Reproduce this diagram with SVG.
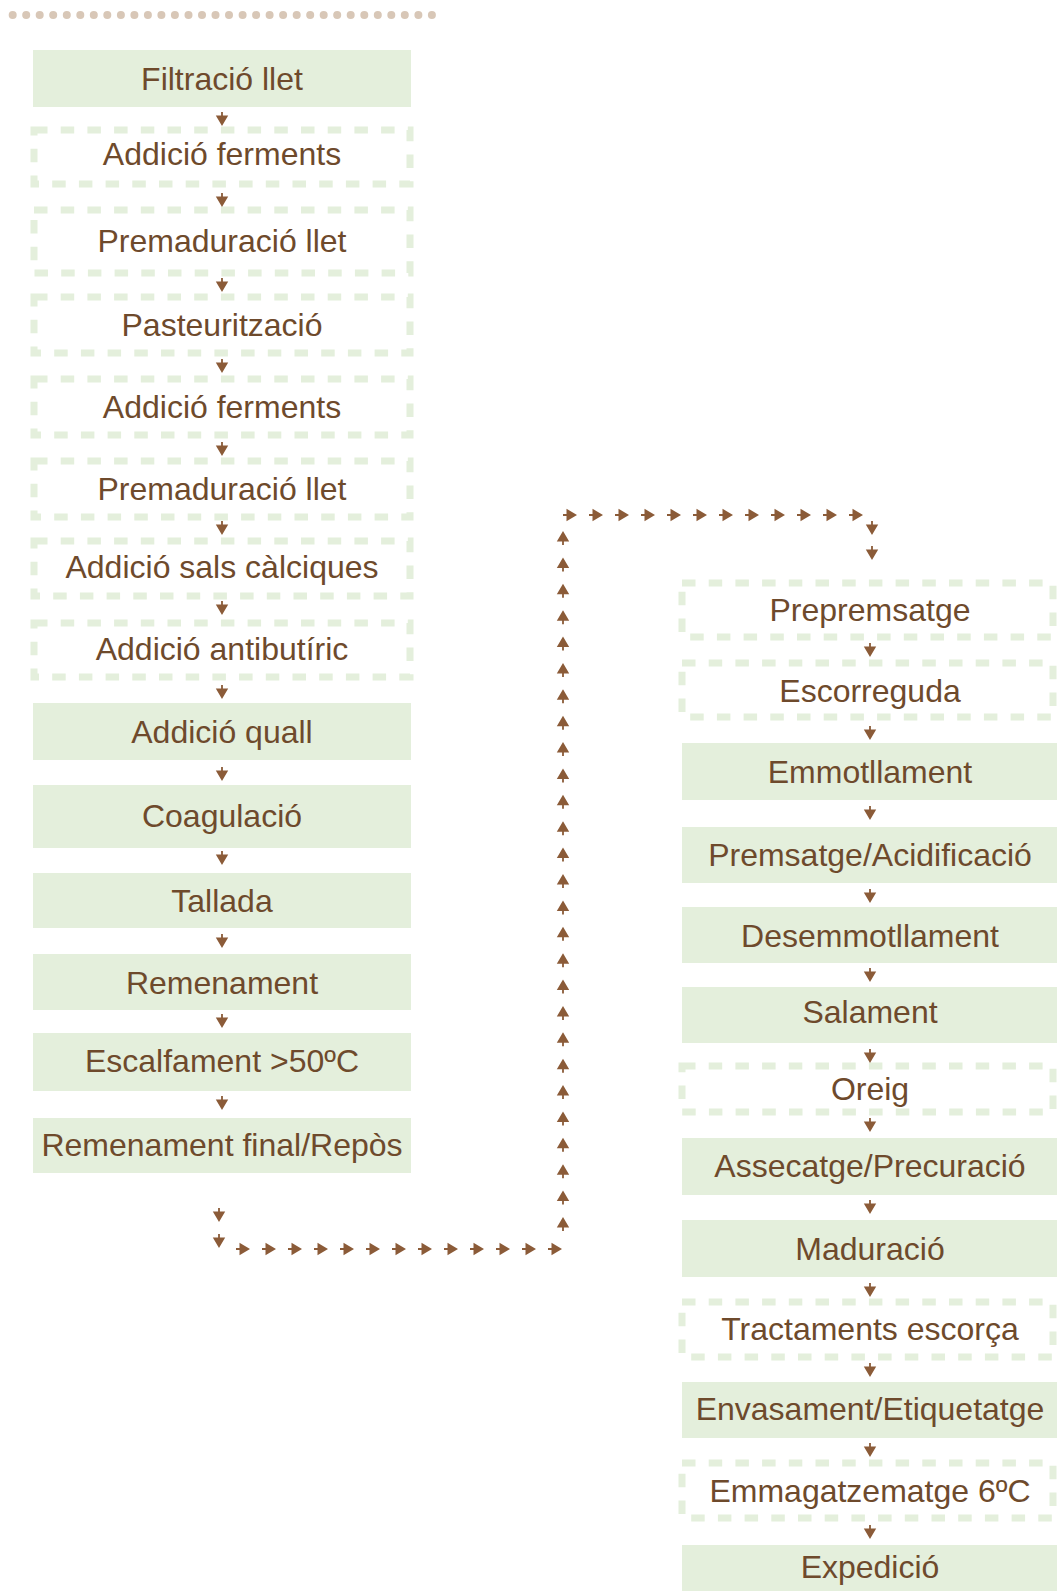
<svg xmlns="http://www.w3.org/2000/svg" xmlns:xlink="http://www.w3.org/1999/xlink" width="1057" height="1591" viewBox="0 0 1057 1591">
<style>
.s{fill:#e4efdc}
.d{fill:none;stroke:#e4efdc;stroke-width:7;stroke-dasharray:13.5 13.2}
.t{font-family:"Liberation Sans",Arial,sans-serif;font-size:32px;fill:#6e4a2c;text-anchor:middle}
.dot{fill:#d8c7b7}
</style>
<defs>
<path id="ad" d="M-0.9,-14H0.9V-10.5H6.2L0,0L-6.2,-10.5H-0.9Z" fill="#8b5b38"/>
</defs>
<rect width="1057" height="1591" fill="#ffffff"/>
<g id="dots">
<circle class="dot" cx="12.7" cy="15" r="4"/><circle class="dot" cx="26.2" cy="15" r="4"/><circle class="dot" cx="39.7" cy="15" r="4"/><circle class="dot" cx="53.2" cy="15" r="4"/><circle class="dot" cx="66.8" cy="15" r="4"/><circle class="dot" cx="80.3" cy="15" r="4"/><circle class="dot" cx="93.8" cy="15" r="4"/><circle class="dot" cx="107.3" cy="15" r="4"/><circle class="dot" cx="120.9" cy="15" r="4"/><circle class="dot" cx="134.4" cy="15" r="4"/><circle class="dot" cx="147.9" cy="15" r="4"/><circle class="dot" cx="161.4" cy="15" r="4"/><circle class="dot" cx="174.9" cy="15" r="4"/><circle class="dot" cx="188.5" cy="15" r="4"/><circle class="dot" cx="202.0" cy="15" r="4"/><circle class="dot" cx="215.5" cy="15" r="4"/><circle class="dot" cx="229.0" cy="15" r="4"/><circle class="dot" cx="242.6" cy="15" r="4"/><circle class="dot" cx="256.1" cy="15" r="4"/><circle class="dot" cx="269.6" cy="15" r="4"/><circle class="dot" cx="283.1" cy="15" r="4"/><circle class="dot" cx="296.7" cy="15" r="4"/><circle class="dot" cx="310.2" cy="15" r="4"/><circle class="dot" cx="323.7" cy="15" r="4"/><circle class="dot" cx="337.2" cy="15" r="4"/><circle class="dot" cx="350.7" cy="15" r="4"/><circle class="dot" cx="364.3" cy="15" r="4"/><circle class="dot" cx="377.8" cy="15" r="4"/><circle class="dot" cx="391.3" cy="15" r="4"/><circle class="dot" cx="404.8" cy="15" r="4"/><circle class="dot" cx="418.4" cy="15" r="4"/><circle class="dot" cx="431.9" cy="15" r="4"/>
</g>
<g id="n1"><rect class="s" x="33" y="50" width="378" height="57"/><text class="t" x="222" y="90">Filtració llet</text></g>
<g id="n2"><rect class="d" x="34" y="130" width="376" height="54"/><text class="t" x="222" y="165">Addició ferments</text></g>
<g id="n3"><rect class="d" x="34" y="210" width="376" height="63"/><text class="t" x="222" y="252">Premaduració llet</text></g>
<g id="n4"><rect class="d" x="34" y="297" width="376" height="56"/><text class="t" x="222" y="336">Pasteurització</text></g>
<g id="n5"><rect class="d" x="34" y="379" width="376" height="56"/><text class="t" x="222" y="418">Addició ferments</text></g>
<g id="n6"><rect class="d" x="34" y="461" width="376" height="56"/><text class="t" x="222" y="500">Premaduració llet</text></g>
<g id="n7"><rect class="d" x="34" y="541" width="376" height="55"/><text class="t" x="222" y="578">Addició sals càlciques</text></g>
<g id="n8"><rect class="d" x="34" y="623" width="376" height="54"/><text class="t" x="222" y="660">Addició antibutíric</text></g>
<g id="n9"><rect class="s" x="33" y="703" width="378" height="57"/><text class="t" x="222" y="743">Addició quall</text></g>
<g id="n10"><rect class="s" x="33" y="785" width="378" height="63"/><text class="t" x="222" y="827">Coagulació</text></g>
<g id="n11"><rect class="s" x="33" y="873" width="378" height="55"/><text class="t" x="222" y="912">Tallada</text></g>
<g id="n12"><rect class="s" x="33" y="954" width="378" height="56"/><text class="t" x="222" y="994">Remenament</text></g>
<g id="n13"><rect class="s" x="33" y="1033" width="378" height="58"/><text class="t" x="222" y="1072">Escalfament &gt;50ºC</text></g>
<g id="n14"><rect class="s" x="33" y="1118" width="378" height="55"/><text class="t" x="222" y="1156">Remenament final/Repòs</text></g>
<g id="r1"><rect class="d" x="682" y="583" width="371" height="54"/><text class="t" x="870" y="621">Prepremsatge</text></g>
<g id="r2"><rect class="d" x="682" y="663" width="371" height="54"/><text class="t" x="870" y="702">Escorreguda</text></g>
<g id="r3"><rect class="s" x="682" y="743" width="376" height="57"/><text class="t" x="870" y="783">Emmotllament</text></g>
<g id="r4"><rect class="s" x="682" y="827" width="376" height="56"/><text class="t" x="870" y="866">Premsatge/Acidificació</text></g>
<g id="r5"><rect class="s" x="682" y="907" width="376" height="56"/><text class="t" x="870" y="947">Desemmotllament</text></g>
<g id="r6"><rect class="s" x="682" y="987" width="376" height="56"/><text class="t" x="870" y="1023">Salament</text></g>
<g id="r7"><rect class="d" x="682" y="1066" width="371" height="46"/><text class="t" x="870" y="1100">Oreig</text></g>
<g id="r8"><rect class="s" x="682" y="1138" width="376" height="57"/><text class="t" x="870" y="1177">Assecatge/Precuració</text></g>
<g id="r9"><rect class="s" x="682" y="1220" width="376" height="57"/><text class="t" x="870" y="1260">Maduració</text></g>
<g id="r10"><rect class="d" x="682" y="1302" width="371" height="55"/><text class="t" x="870" y="1340">Tractaments escorça</text></g>
<g id="r11"><rect class="s" x="682" y="1382" width="376" height="56"/><text class="t" x="870" y="1420">Envasament/Etiquetatge</text></g>
<g id="r12"><rect class="d" x="682" y="1463" width="371" height="55"/><text class="t" x="870" y="1502">Emmagatzematge 6ºC</text></g>
<g id="r13"><rect class="s" x="682" y="1545" width="376" height="46"/><text class="t" x="870" y="1578">Expedició</text></g>
<g id="connectors">
<use href="#ad" x="222" y="126"/><use href="#ad" x="222" y="207"/><use href="#ad" x="222" y="292"/><use href="#ad" x="222" y="373"/><use href="#ad" x="222" y="456"/><use href="#ad" x="222" y="535"/><use href="#ad" x="222" y="615"/><use href="#ad" x="222" y="699"/><use href="#ad" x="222" y="781"/><use href="#ad" x="222" y="865"/><use href="#ad" x="222" y="948"/><use href="#ad" x="222" y="1028"/><use href="#ad" x="222" y="1110"/>
<use href="#ad" x="219" y="1222"/><use href="#ad" x="219" y="1248"/>
<use href="#ad" transform="translate(250,1249) rotate(-90)"/><use href="#ad" transform="translate(276,1249) rotate(-90)"/><use href="#ad" transform="translate(302,1249) rotate(-90)"/><use href="#ad" transform="translate(328,1249) rotate(-90)"/><use href="#ad" transform="translate(354,1249) rotate(-90)"/><use href="#ad" transform="translate(380,1249) rotate(-90)"/><use href="#ad" transform="translate(406,1249) rotate(-90)"/><use href="#ad" transform="translate(432,1249) rotate(-90)"/><use href="#ad" transform="translate(458,1249) rotate(-90)"/><use href="#ad" transform="translate(484,1249) rotate(-90)"/><use href="#ad" transform="translate(510,1249) rotate(-90)"/><use href="#ad" transform="translate(536,1249) rotate(-90)"/><use href="#ad" transform="translate(562,1249) rotate(-90)"/>
<use href="#ad" transform="translate(563,1217) rotate(180)"/><use href="#ad" transform="translate(563,1190.6) rotate(180)"/><use href="#ad" transform="translate(563,1164.2) rotate(180)"/><use href="#ad" transform="translate(563,1137.8) rotate(180)"/><use href="#ad" transform="translate(563,1111.5) rotate(180)"/><use href="#ad" transform="translate(563,1085.1) rotate(180)"/><use href="#ad" transform="translate(563,1058.7) rotate(180)"/><use href="#ad" transform="translate(563,1032.3) rotate(180)"/><use href="#ad" transform="translate(563,1005.9) rotate(180)"/><use href="#ad" transform="translate(563,979.5) rotate(180)"/><use href="#ad" transform="translate(563,953.2) rotate(180)"/><use href="#ad" transform="translate(563,926.8) rotate(180)"/><use href="#ad" transform="translate(563,900.4) rotate(180)"/><use href="#ad" transform="translate(563,874) rotate(180)"/><use href="#ad" transform="translate(563,847.6) rotate(180)"/><use href="#ad" transform="translate(563,821.2) rotate(180)"/><use href="#ad" transform="translate(563,794.8) rotate(180)"/><use href="#ad" transform="translate(563,768.5) rotate(180)"/><use href="#ad" transform="translate(563,742.1) rotate(180)"/><use href="#ad" transform="translate(563,715.7) rotate(180)"/><use href="#ad" transform="translate(563,689.3) rotate(180)"/><use href="#ad" transform="translate(563,662.9) rotate(180)"/><use href="#ad" transform="translate(563,636.5) rotate(180)"/><use href="#ad" transform="translate(563,610.2) rotate(180)"/><use href="#ad" transform="translate(563,583.8) rotate(180)"/><use href="#ad" transform="translate(563,557.4) rotate(180)"/><use href="#ad" transform="translate(563,531) rotate(180)"/>
<use href="#ad" transform="translate(577,515) rotate(-90)"/><use href="#ad" transform="translate(603,515) rotate(-90)"/><use href="#ad" transform="translate(629,515) rotate(-90)"/><use href="#ad" transform="translate(655,515) rotate(-90)"/><use href="#ad" transform="translate(681,515) rotate(-90)"/><use href="#ad" transform="translate(707,515) rotate(-90)"/><use href="#ad" transform="translate(733,515) rotate(-90)"/><use href="#ad" transform="translate(759,515) rotate(-90)"/><use href="#ad" transform="translate(785,515) rotate(-90)"/><use href="#ad" transform="translate(811,515) rotate(-90)"/><use href="#ad" transform="translate(837,515) rotate(-90)"/><use href="#ad" transform="translate(863,515) rotate(-90)"/>
<use href="#ad" x="872" y="535"/><use href="#ad" x="872" y="560"/>
<use href="#ad" x="870" y="657"/><use href="#ad" x="870" y="740"/><use href="#ad" x="870" y="820"/><use href="#ad" x="870" y="903"/><use href="#ad" x="870" y="982"/><use href="#ad" x="870" y="1063"/><use href="#ad" x="870" y="1132"/><use href="#ad" x="870" y="1214"/><use href="#ad" x="870" y="1297"/><use href="#ad" x="870" y="1377"/><use href="#ad" x="870" y="1457"/><use href="#ad" x="870" y="1539"/>
</g>
</svg>
